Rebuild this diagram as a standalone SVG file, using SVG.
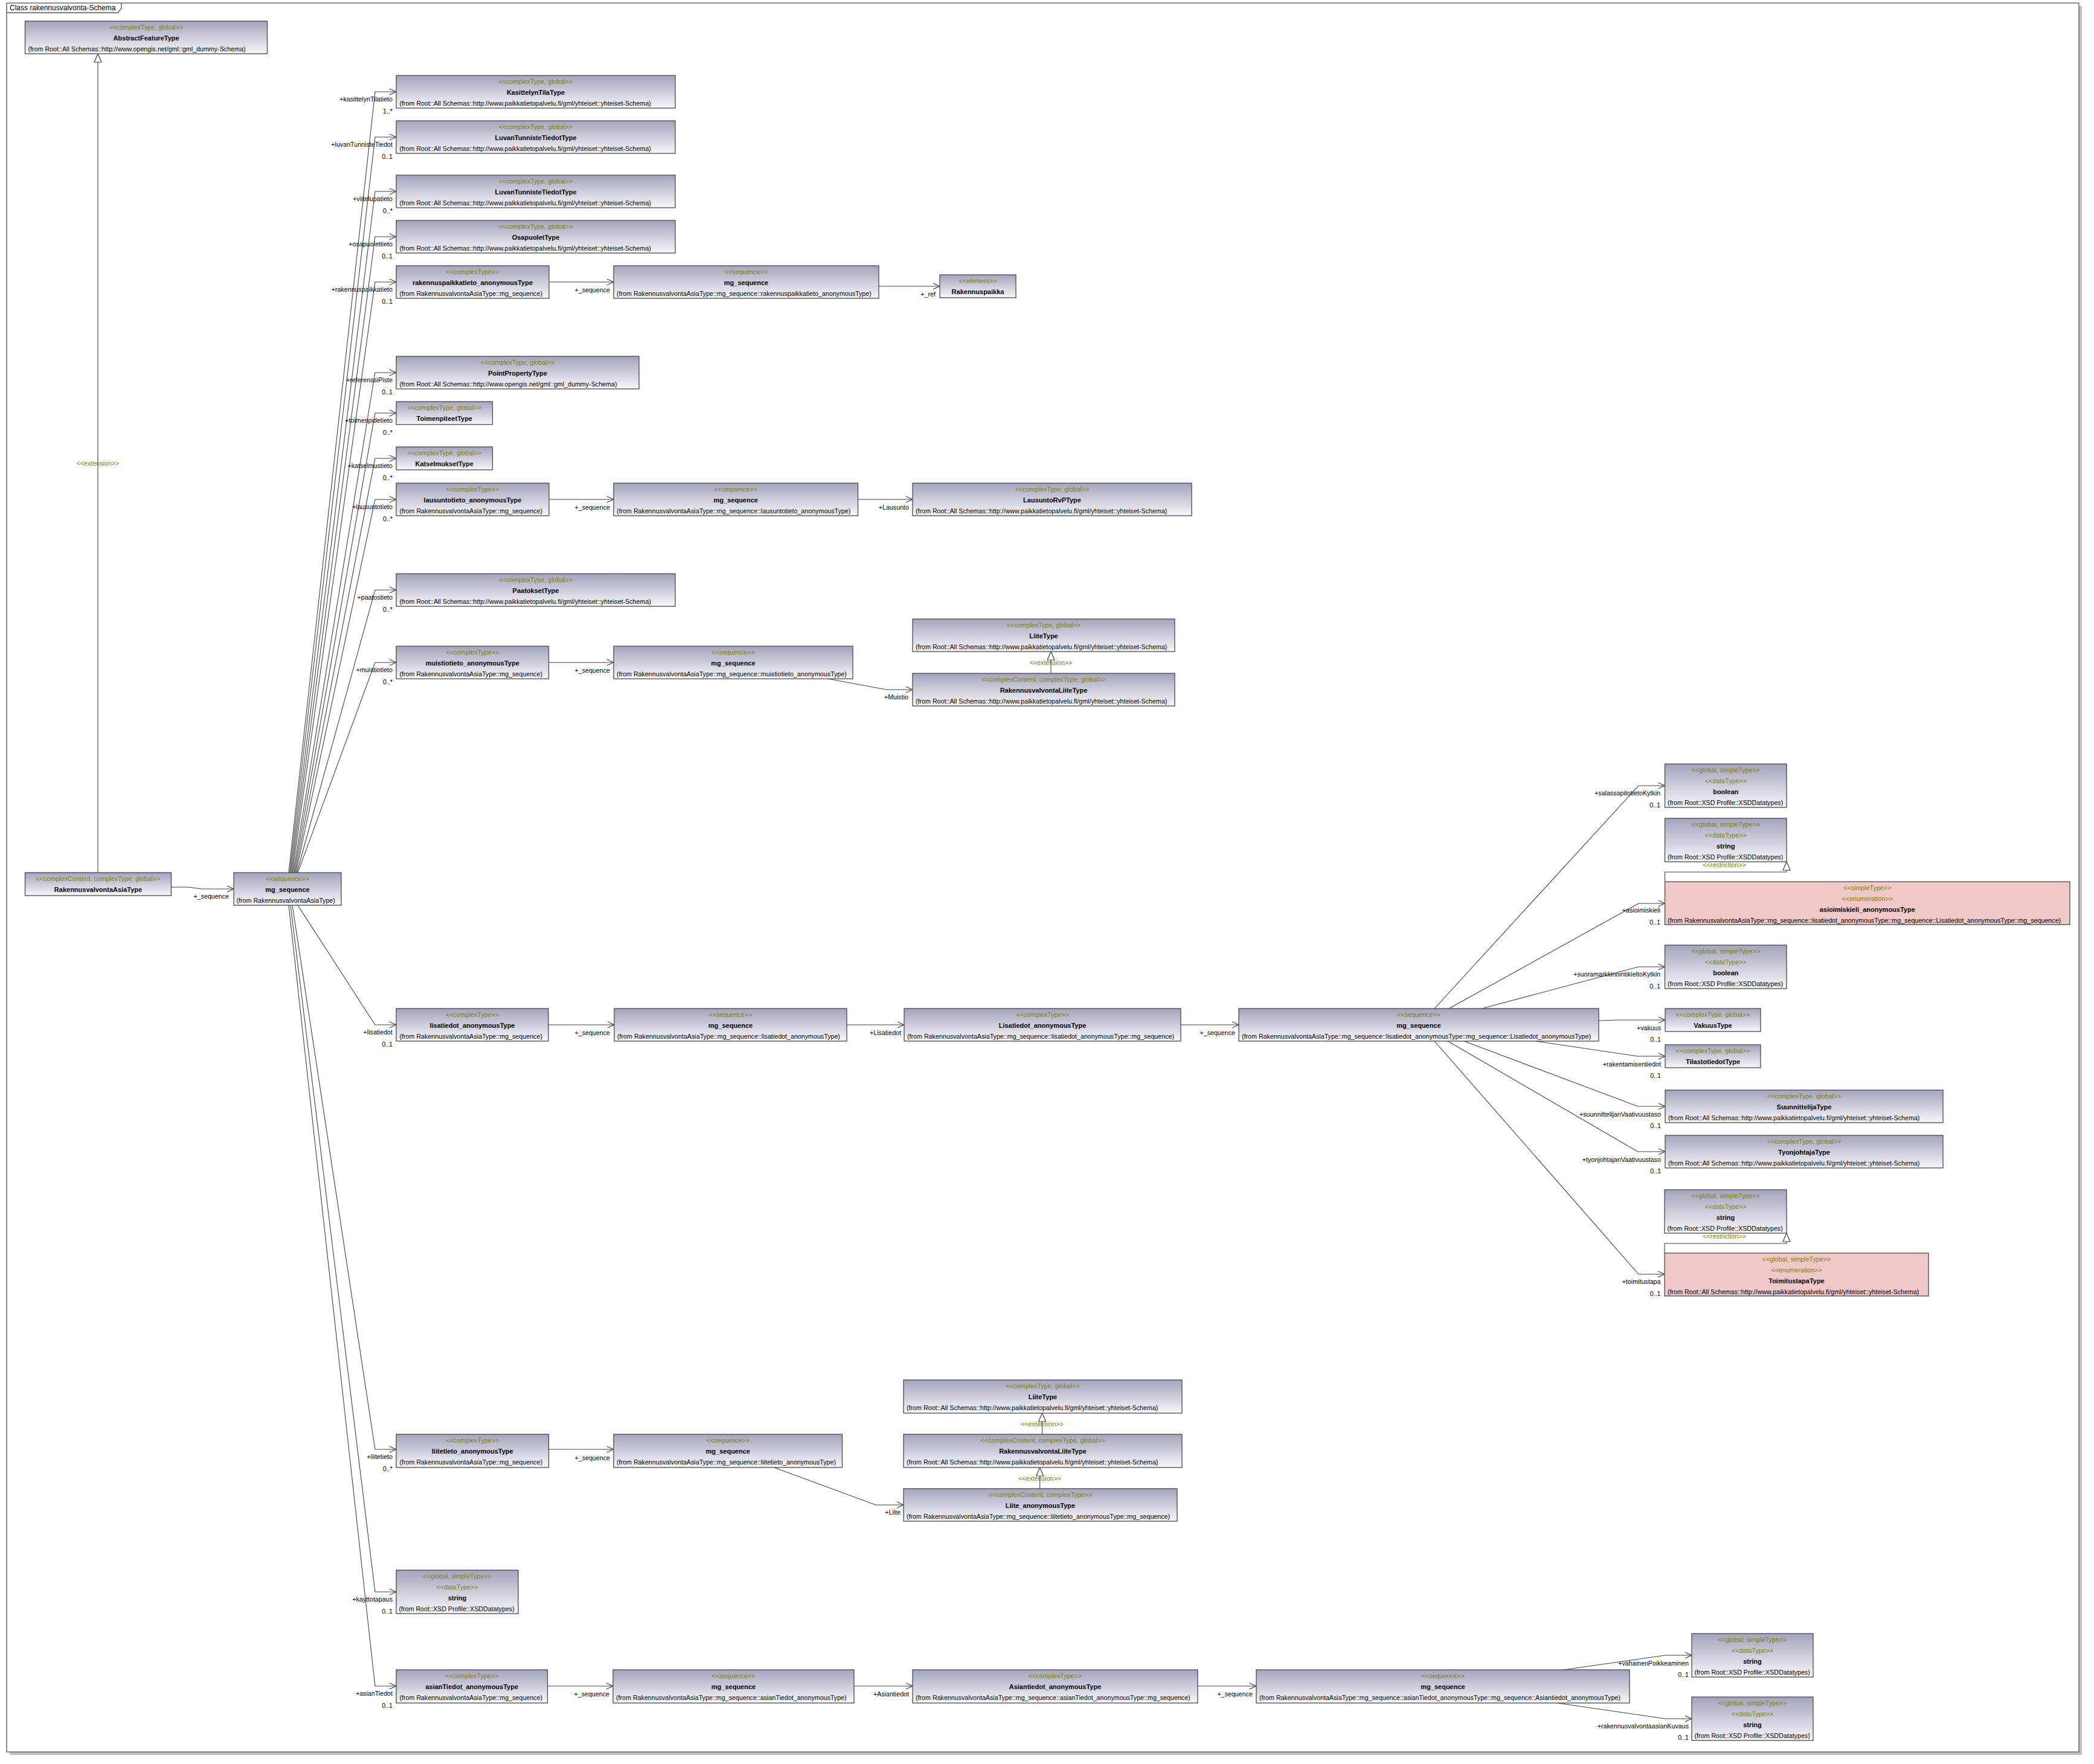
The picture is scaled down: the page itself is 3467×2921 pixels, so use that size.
<svg xmlns="http://www.w3.org/2000/svg" width="3467" height="2921" viewBox="0 0 3467 2921">
<style>
text{font-family:"Liberation Sans",Arial,sans-serif;font-size:10.7px}
.b{fill:url(#g);stroke:#4a4a4a;stroke-width:1.3}
.p{fill:#f0c8c8;stroke:#4a4a4a;stroke-width:1.3}
.s{fill:#808000;text-anchor:middle}
.n{font-weight:bold;font-size:11px;fill:#000;text-anchor:middle}
.f{fill:#000}
.l{fill:#000;text-anchor:end}
.c{fill:none;stroke:#404040;stroke-width:1.1}
.ca{fill:none;stroke:#404040;stroke-width:1.1;marker-end:url(#a)}
.ct{fill:none;stroke:#404040;stroke-width:1.1;marker-end:url(#t)}
.e{fill:#808000;text-anchor:middle}
</style>
<defs>
<linearGradient id="g" x1="0" y1="0" x2="0" y2="1"><stop offset="0" stop-color="#a3a3bd"/><stop offset="1" stop-color="#f7f7fb"/></linearGradient>
<marker id="a" markerWidth="14" markerHeight="14" refX="11" refY="5" orient="auto" markerUnits="userSpaceOnUse" overflow="visible"><path d="M0,0 L11,5 L0,10" fill="none" stroke="#404040" stroke-width="1.2"/></marker>
<marker id="t" markerWidth="16" markerHeight="14" refX="14" refY="6" orient="auto" markerUnits="userSpaceOnUse" overflow="visible"><path d="M0,0 L14,6 L0,12 Z" fill="#fff" stroke="#404040" stroke-width="1.2"/></marker>
</defs>
<rect x="0" y="0" width="3467" height="2921" fill="#fff"/>
<rect x="16" y="10" width="3431" height="2896" fill="#c0c0c0"/>
<rect x="11" y="5" width="3431" height="2896" fill="#fff" stroke="#555" stroke-width="1.3"/>
<path d="M11,21 L195,21 L201,14 L201,5" fill="none" stroke="#555" stroke-width="1.3"/>
<text x="16" y="17" style="font-size:12px">Class rakennusvalvonta-Schema</text>

<g id="connectors">
<path class="ct" d="M162,1445 L162,89"/>
<text class="e" x="162" y="771">&lt;&lt;extension&gt;&gt;</text>
<path class="ca" d="M283.5,1469 L312,1469 L334,1472 L387,1472"/>
<text class="l" x="379" y="1488">+_sequence</text>

<path class="ca" d="M478,1445 L621,152 L656,152"/>
<text class="l" x="650" y="168">+kasittelynTilatieto</text><text class="l" x="650" y="188">1..*</text>
<path class="ca" d="M479.5,1445 L621,227 L656,227"/>
<text class="l" x="650" y="243">+luvanTunnisteTiedot</text><text class="l" x="650" y="263">0..1</text>
<path class="ca" d="M481,1445 L621,317 L656,317"/>
<text class="l" x="650" y="333">+viitelupatieto</text><text class="l" x="650" y="353">0..*</text>
<path class="ca" d="M482.5,1445 L621,392 L656,392"/>
<text class="l" x="650" y="408">+osapuolettieto</text><text class="l" x="650" y="428">0..1</text>
<path class="ca" d="M484,1445 L621,467 L656,467"/>
<text class="l" x="650" y="483">+rakennuspaikkatieto</text><text class="l" x="650" y="503">0..1</text>
<path class="ca" d="M485.5,1445 L621,617 L656,617"/>
<text class="l" x="650" y="633">+referenssiPiste</text><text class="l" x="650" y="653">0..1</text>
<path class="ca" d="M487,1445 L621,684 L656,684"/>
<text class="l" x="650" y="700">+toimenpidetieto</text><text class="l" x="650" y="720">0..*</text>
<path class="ca" d="M488.5,1445 L621,759 L656,759"/>
<text class="l" x="650" y="775">+katselmustieto</text><text class="l" x="650" y="795">0..*</text>
<path class="ca" d="M490,1445 L621,827 L656,827"/>
<text class="l" x="650" y="843">+lausuntotieto</text><text class="l" x="650" y="863">0..*</text>
<path class="ca" d="M491.5,1445 L621,977 L656,977"/>
<text class="l" x="650" y="993">+paatostieto</text><text class="l" x="650" y="1013">0..*</text>
<path class="ca" d="M493,1445 L621,1097 L656,1097"/>
<text class="l" x="650" y="1113">+muistiotieto</text><text class="l" x="650" y="1133">0..*</text>
<path class="ca" d="M493,1499 L621,1697 L656,1697"/>
<text class="l" x="650" y="1713">+lisatiedot</text><text class="l" x="650" y="1733">0..1</text>
<path class="ca" d="M484,1499 L621,2400 L656,2400"/>
<text class="l" x="650" y="2416">+liitetieto</text><text class="l" x="650" y="2436">0..*</text>
<path class="ca" d="M481,1499 L621,2636 L656,2636"/>
<text class="l" x="650" y="2652">+kayttotapaus</text><text class="l" x="650" y="2672">0..1</text>
<path class="ca" d="M478,1499 L621,2792 L656,2792"/>
<text class="l" x="650" y="2808">+asianTiedot</text><text class="l" x="650" y="2828">0..1</text>

<path class="ca" d="M909,467 L1016,467"/>
<text class="l" x="1010" y="484">+_sequence</text>
<path class="ca" d="M1455,474 L1556,474"/>
<text class="l" x="1549" y="491">+_ref</text>

<path class="ca" d="M909,827 L1016,827"/>
<text class="l" x="1010" y="844">+_sequence</text>
<path class="ca" d="M1420.5,827 L1511,827"/>
<text class="l" x="1505" y="844">+Lausunto</text>

<path class="ca" d="M908.5,1097 L1016,1097"/>
<text class="l" x="1010" y="1114">+_sequence</text>
<path class="ca" d="M1370.6,1124 L1468,1142 L1511,1142"/>
<text class="l" x="1504" y="1158">+Muistio</text>
<path class="ct" d="M1740,1115 L1740,1079"/>
<text class="e" x="1740" y="1101">&lt;&lt;extension&gt;&gt;</text>

<path class="ca" d="M908,1697 L1017,1697"/>
<text class="l" x="1010" y="1714">+_sequence</text>
<path class="ca" d="M1402,1697 L1497,1697"/>
<text class="l" x="1492" y="1714">+Lisatiedot</text>
<path class="ca" d="M1955,1697 L2051,1697"/>
<text class="l" x="2045" y="1714">+_sequence</text>

<path class="ca" d="M2375,1670 L2713,1301 L2756.5,1301"/>
<text class="l" x="2749" y="1317">+salassapitotietoKytkin</text><text class="l" x="2749" y="1337">0..1</text>
<path class="ca" d="M2399,1670 L2713,1496 L2756.5,1496"/>
<text class="l" x="2749" y="1511">+asioimiskieli</text><text class="l" x="2749" y="1531">0..1</text>
<path class="ca" d="M2453.6,1670 L2712.5,1601 L2756.5,1601"/>
<text class="l" x="2749" y="1617">+suoramarkkinointikieltoKytkin</text><text class="l" x="2749" y="1637">0..1</text>
<path class="ca" d="M2647,1690 L2681,1689 L2757,1689"/>
<text class="l" x="2750" y="1706">+vakuus</text><text class="l" x="2750" y="1725">0..1</text>
<path class="ca" d="M2542,1724 L2711.6,1749 L2757,1749"/>
<text class="l" x="2750" y="1766">+rakentamisentiedot</text><text class="l" x="2750" y="1785">0..1</text>
<path class="ca" d="M2424,1724 L2711.6,1832 L2757,1832"/>
<text class="l" x="2750" y="1849">+suunnittelijanVaativuustaso</text><text class="l" x="2750" y="1868">0..1</text>
<path class="ca" d="M2397,1724 L2711.6,1907 L2757,1907"/>
<text class="l" x="2750" y="1924">+tyonjohtajanVaativuustaso</text><text class="l" x="2750" y="1943">0..1</text>
<path class="ca" d="M2375,1724 L2713,2110 L2756,2110"/>
<text class="l" x="2749.5" y="2126">+toimitustapa</text><text class="l" x="2749.5" y="2146">0..1</text>
<path class="ct" d="M2756.5,1460 L2756.5,1444 L2958,1444 L2958,1427"/>
<text class="e" x="2855" y="1436">&lt;&lt;restriction&gt;&gt;</text>
<path class="ct" d="M2756,2075 L2756,2059 L2958,2059 L2958,2042"/>
<text class="e" x="2855" y="2051">&lt;&lt;restriction&gt;&gt;</text>

<path class="ca" d="M908.5,2400 L1016,2400"/>
<text class="l" x="1010" y="2418">+_sequence</text>
<path class="ca" d="M1281.6,2430 L1450,2492 L1496,2492"/>
<text class="l" x="1491" y="2508">+Liite</text>
<path class="ct" d="M1725.5,2375 L1725.5,2340"/>
<text class="e" x="1725.5" y="2362">&lt;&lt;extension&gt;&gt;</text>
<path class="ct" d="M1721.7,2465 L1721.7,2430"/>
<text class="e" x="1721.7" y="2452">&lt;&lt;extension&gt;&gt;</text>

<path class="ca" d="M906.5,2792 L1015,2792"/>
<text class="l" x="1009" y="2809">+_sequence</text>
<path class="ca" d="M1414,2792 L1511,2792"/>
<text class="l" x="1505" y="2809">+Asiantiedot</text>
<path class="ca" d="M1983,2792 L2080,2792"/>
<text class="l" x="2074" y="2809">+_sequence</text>
<path class="ca" d="M2589,2765 L2757,2741 L2801,2741"/>
<text class="l" x="2796" y="2758">+vahainenPoikkeaminen</text><text class="l" x="2796" y="2777">0..1</text>
<path class="ca" d="M2578,2820 L2757,2846 L2801,2846"/>
<text class="l" x="2796" y="2862">+rakennusvalvontaasianKuvaus</text><text class="l" x="2796" y="2881">0..1</text>
</g>

<g id="n_AbstractFeatureType"><rect class="b" x="41.5" y="35" width="401" height="54"/><text class="s" x="242" y="48.5">&lt;&lt;complexType, global&gt;&gt;</text><text class="n" x="242" y="66.5">AbstractFeatureType</text><text class="f" x="46.5" y="84.5">(from Root::All Schemas::http://www.opengis.net/gml::gml_dummy-Schema)</text></g>
<g id="n_RakennusvalvontaAsiaType"><rect class="b" x="41.5" y="1445" width="242" height="38"/><text class="s" x="162.5" y="1458.5">&lt;&lt;complexContent, complexType, global&gt;&gt;</text><text class="n" x="162.5" y="1476.5">RakennusvalvontaAsiaType</text></g>
<g id="n_mg_main"><rect class="b" x="387" y="1445" width="178" height="54"/><text class="s" x="476" y="1458.5">&lt;&lt;sequence&gt;&gt;</text><text class="n" x="476" y="1476.5">mg_sequence</text><text class="f" x="391.5" y="1494.5">(from RakennusvalvontaAsiaType)</text></g>

<g id="n_KasittelynTilaType"><rect class="b" x="656" y="125" width="462" height="54"/><text class="s" x="887" y="138.5">&lt;&lt;complexType, global&gt;&gt;</text><text class="n" x="887" y="156.5">KasittelynTilaType</text><text class="f" x="661.5" y="174.5">(from Root::All Schemas::http://www.paikkatietopalvelu.fi/gml/yhteiset::yhteiset-Schema)</text></g>
<g id="n_LuvanTunnisteTiedotType1"><rect class="b" x="656" y="200" width="462" height="54"/><text class="s" x="887" y="213.5">&lt;&lt;complexType, global&gt;&gt;</text><text class="n" x="887" y="231.5">LuvanTunnisteTiedotType</text><text class="f" x="661.5" y="249.5">(from Root::All Schemas::http://www.paikkatietopalvelu.fi/gml/yhteiset::yhteiset-Schema)</text></g>
<g id="n_LuvanTunnisteTiedotType2"><rect class="b" x="656" y="290" width="462" height="54"/><text class="s" x="887" y="303.5">&lt;&lt;complexType, global&gt;&gt;</text><text class="n" x="887" y="321.5">LuvanTunnisteTiedotType</text><text class="f" x="661.5" y="339.5">(from Root::All Schemas::http://www.paikkatietopalvelu.fi/gml/yhteiset::yhteiset-Schema)</text></g>
<g id="n_OsapuoletType"><rect class="b" x="656" y="365" width="462" height="54"/><text class="s" x="887" y="378.5">&lt;&lt;complexType, global&gt;&gt;</text><text class="n" x="887" y="396.5">OsapuoletType</text><text class="f" x="661.5" y="414.5">(from Root::All Schemas::http://www.paikkatietopalvelu.fi/gml/yhteiset::yhteiset-Schema)</text></g>
<g id="n_rakennuspaikkatieto_anonymousType"><rect class="b" x="656" y="440" width="253" height="54"/><text class="s" x="782.5" y="453.5">&lt;&lt;complexType&gt;&gt;</text><text class="n" x="782.5" y="471.5">rakennuspaikkatieto_anonymousType</text><text class="f" x="661.5" y="489.5">(from RakennusvalvontaAsiaType::mg_sequence)</text></g>
<g id="n_mg_rakennuspaikka"><rect class="b" x="1016" y="440" width="439" height="54"/><text class="s" x="1235.5" y="453.5">&lt;&lt;sequence&gt;&gt;</text><text class="n" x="1235.5" y="471.5">mg_sequence</text><text class="f" x="1021" y="489.5">(from RakennusvalvontaAsiaType::mg_sequence::rakennuspaikkatieto_anonymousType)</text></g>
<g id="n_Rakennuspaikka"><rect class="b" x="1556" y="455" width="126" height="38"/><text class="s" x="1619" y="468.5">&lt;&lt;element&gt;&gt;</text><text class="n" x="1619" y="486.5">Rakennuspaikka</text></g>
<g id="n_PointPropertyType"><rect class="b" x="656" y="590" width="402" height="54"/><text class="s" x="857" y="603.5">&lt;&lt;complexType, global&gt;&gt;</text><text class="n" x="857" y="621.5">PointPropertyType</text><text class="f" x="661.5" y="639.5">(from Root::All Schemas::http://www.opengis.net/gml::gml_dummy-Schema)</text></g>
<g id="n_ToimenpiteetType"><rect class="b" x="656" y="665" width="159.5" height="38"/><text class="s" x="735.75" y="678.5">&lt;&lt;complexType, global&gt;&gt;</text><text class="n" x="735.75" y="696.5">ToimenpiteetType</text></g>
<g id="n_KatselmuksetType"><rect class="b" x="656" y="740" width="159.5" height="38"/><text class="s" x="735.75" y="753.5">&lt;&lt;complexType, global&gt;&gt;</text><text class="n" x="735.75" y="771.5">KatselmuksetType</text></g>
<g id="n_lausuntotieto_anonymousType"><rect class="b" x="656" y="800" width="253" height="54"/><text class="s" x="782.5" y="813.5">&lt;&lt;complexType&gt;&gt;</text><text class="n" x="782.5" y="831.5">lausuntotieto_anonymousType</text><text class="f" x="661.5" y="849.5">(from RakennusvalvontaAsiaType::mg_sequence)</text></g>
<g id="n_mg_lausunto"><rect class="b" x="1016" y="800" width="404.5" height="54"/><text class="s" x="1218.25" y="813.5">&lt;&lt;sequence&gt;&gt;</text><text class="n" x="1218.25" y="831.5">mg_sequence</text><text class="f" x="1021" y="849.5">(from RakennusvalvontaAsiaType::mg_sequence::lausuntotieto_anonymousType)</text></g>
<g id="n_LausuntoRvPType"><rect class="b" x="1511" y="800" width="462" height="54"/><text class="s" x="1742" y="813.5">&lt;&lt;complexType, global&gt;&gt;</text><text class="n" x="1742" y="831.5">LausuntoRvPType</text><text class="f" x="1516" y="849.5">(from Root::All Schemas::http://www.paikkatietopalvelu.fi/gml/yhteiset::yhteiset-Schema)</text></g>
<g id="n_PaatoksetType"><rect class="b" x="656" y="950" width="462" height="54"/><text class="s" x="887" y="963.5">&lt;&lt;complexType, global&gt;&gt;</text><text class="n" x="887" y="981.5">PaatoksetType</text><text class="f" x="661.5" y="999.5">(from Root::All Schemas::http://www.paikkatietopalvelu.fi/gml/yhteiset::yhteiset-Schema)</text></g>
<g id="n_muistiotieto_anonymousType"><rect class="b" x="656" y="1070" width="252.5" height="54"/><text class="s" x="782.25" y="1083.5">&lt;&lt;complexType&gt;&gt;</text><text class="n" x="782.25" y="1101.5">muistiotieto_anonymousType</text><text class="f" x="661.5" y="1119.5">(from RakennusvalvontaAsiaType::mg_sequence)</text></g>
<g id="n_mg_muistio"><rect class="b" x="1016" y="1070" width="396" height="54"/><text class="s" x="1214" y="1083.5">&lt;&lt;sequence&gt;&gt;</text><text class="n" x="1214" y="1101.5">mg_sequence</text><text class="f" x="1021" y="1119.5">(from RakennusvalvontaAsiaType::mg_sequence::muistiotieto_anonymousType)</text></g>
<g id="n_LiiteType_a"><rect class="b" x="1511" y="1025" width="434" height="54"/><text class="s" x="1728" y="1038.5">&lt;&lt;complexType, global&gt;&gt;</text><text class="n" x="1728" y="1056.5">LiiteType</text><text class="f" x="1516" y="1074.5">(from Root::All Schemas::http://www.paikkatietopalvelu.fi/gml/yhteiset::yhteiset-Schema)</text></g>
<g id="n_RakennusvalvontaLiiteType_a"><rect class="b" x="1511" y="1115" width="434" height="54"/><text class="s" x="1728" y="1128.5">&lt;&lt;complexContent, complexType, global&gt;&gt;</text><text class="n" x="1728" y="1146.5">RakennusvalvontaLiiteType</text><text class="f" x="1516" y="1164.5">(from Root::All Schemas::http://www.paikkatietopalvelu.fi/gml/yhteiset::yhteiset-Schema)</text></g>

<g id="n_lisatiedot_anonymousType"><rect class="b" x="656" y="1670" width="252" height="54"/><text class="s" x="782" y="1683.5">&lt;&lt;complexType&gt;&gt;</text><text class="n" x="782" y="1701.5">lisatiedot_anonymousType</text><text class="f" x="661.5" y="1719.5">(from RakennusvalvontaAsiaType::mg_sequence)</text></g>
<g id="n_mg_lisatiedot"><rect class="b" x="1017" y="1670" width="385" height="54"/><text class="s" x="1209.5" y="1683.5">&lt;&lt;sequence&gt;&gt;</text><text class="n" x="1209.5" y="1701.5">mg_sequence</text><text class="f" x="1022" y="1719.5">(from RakennusvalvontaAsiaType::mg_sequence::lisatiedot_anonymousType)</text></g>
<g id="n_Lisatiedot_anonymousType"><rect class="b" x="1497" y="1670" width="458" height="54"/><text class="s" x="1726" y="1683.5">&lt;&lt;complexType&gt;&gt;</text><text class="n" x="1726" y="1701.5">Lisatiedot_anonymousType</text><text class="f" x="1502" y="1719.5">(from RakennusvalvontaAsiaType::mg_sequence::lisatiedot_anonymousType::mg_sequence)</text></g>
<g id="n_mg_Lisatiedot"><rect class="b" x="2051" y="1670" width="596" height="54"/><text class="s" x="2349" y="1683.5">&lt;&lt;sequence&gt;&gt;</text><text class="n" x="2349" y="1701.5">mg_sequence</text><text class="f" x="2056" y="1719.5">(from RakennusvalvontaAsiaType::mg_sequence::lisatiedot_anonymousType::mg_sequence::Lisatiedot_anonymousType)</text></g>
<g id="n_boolean1"><rect class="b" x="2756.5" y="1265" width="201.5" height="72"/><text class="s" x="2857.25" y="1278.5">&lt;&lt;global, simpleType&gt;&gt;</text><text class="s" x="2857.25" y="1296.5">&lt;&lt;dataType&gt;&gt;</text><text class="n" x="2857.25" y="1314.5">boolean</text><text class="f" x="2761" y="1332.5">(from Root::XSD Profile::XSDDatatypes)</text></g>
<g id="n_string1"><rect class="b" x="2756.5" y="1355" width="201.5" height="72"/><text class="s" x="2857.25" y="1368.5">&lt;&lt;global, simpleType&gt;&gt;</text><text class="s" x="2857.25" y="1386.5">&lt;&lt;dataType&gt;&gt;</text><text class="n" x="2857.25" y="1404.5">string</text><text class="f" x="2761" y="1422.5">(from Root::XSD Profile::XSDDatatypes)</text></g>
<g id="n_asioimiskieli_anonymousType"><rect class="p" x="2756.5" y="1460" width="670.5" height="71"/><text class="s" x="3091.75" y="1473.5">&lt;&lt;simpleType&gt;&gt;</text><text class="s" x="3091.75" y="1491.5">&lt;&lt;enumeration&gt;&gt;</text><text class="n" x="3091.75" y="1509.5">asioimiskieli_anonymousType</text><text class="f" x="2761" y="1527.5">(from RakennusvalvontaAsiaType::mg_sequence::lisatiedot_anonymousType::mg_sequence::Lisatiedot_anonymousType::mg_sequence)</text></g>
<g id="n_boolean2"><rect class="b" x="2756.5" y="1565" width="201.5" height="72"/><text class="s" x="2857.25" y="1578.5">&lt;&lt;global, simpleType&gt;&gt;</text><text class="s" x="2857.25" y="1596.5">&lt;&lt;dataType&gt;&gt;</text><text class="n" x="2857.25" y="1614.5">boolean</text><text class="f" x="2761" y="1632.5">(from Root::XSD Profile::XSDDatatypes)</text></g>
<g id="n_VakuusType"><rect class="b" x="2757" y="1670" width="158" height="38"/><text class="s" x="2836" y="1683.5">&lt;&lt;complexType, global&gt;&gt;</text><text class="n" x="2836" y="1701.5">VakuusType</text></g>
<g id="n_TilastotiedotType"><rect class="b" x="2757" y="1730" width="158" height="38"/><text class="s" x="2836" y="1743.5">&lt;&lt;complexType, global&gt;&gt;</text><text class="n" x="2836" y="1761.5">TilastotiedotType</text></g>
<g id="n_SuunnittelijaType"><rect class="b" x="2757" y="1805" width="460" height="54"/><text class="s" x="2987" y="1818.5">&lt;&lt;complexType, global&gt;&gt;</text><text class="n" x="2987" y="1836.5">SuunnittelijaType</text><text class="f" x="2762" y="1854.5">(from Root::All Schemas::http://www.paikkatietopalvelu.fi/gml/yhteiset::yhteiset-Schema)</text></g>
<g id="n_TyonjohtajaType"><rect class="b" x="2757" y="1880" width="460" height="54"/><text class="s" x="2987" y="1893.5">&lt;&lt;complexType, global&gt;&gt;</text><text class="n" x="2987" y="1911.5">TyonjohtajaType</text><text class="f" x="2762" y="1929.5">(from Root::All Schemas::http://www.paikkatietopalvelu.fi/gml/yhteiset::yhteiset-Schema)</text></g>
<g id="n_string2"><rect class="b" x="2756" y="1970" width="202" height="72"/><text class="s" x="2857" y="1983.5">&lt;&lt;global, simpleType&gt;&gt;</text><text class="s" x="2857" y="2001.5">&lt;&lt;dataType&gt;&gt;</text><text class="n" x="2857" y="2019.5">string</text><text class="f" x="2760.5" y="2037.5">(from Root::XSD Profile::XSDDatatypes)</text></g>
<g id="n_ToimitustapaType"><rect class="p" x="2756" y="2075" width="437" height="71"/><text class="s" x="2974.5" y="2088.5">&lt;&lt;global, simpleType&gt;&gt;</text><text class="s" x="2974.5" y="2106.5">&lt;&lt;enumeration&gt;&gt;</text><text class="n" x="2974.5" y="2124.5">ToimitustapaType</text><text class="f" x="2761" y="2142.5">(from Root::All Schemas::http://www.paikkatietopalvelu.fi/gml/yhteiset::yhteiset-Schema)</text></g>

<g id="n_liitetieto_anonymousType"><rect class="b" x="656" y="2375" width="252.5" height="55"/><text class="s" x="782.25" y="2388.5">&lt;&lt;complexType&gt;&gt;</text><text class="n" x="782.25" y="2406.5">liitetieto_anonymousType</text><text class="f" x="661.5" y="2424.5">(from RakennusvalvontaAsiaType::mg_sequence)</text></g>
<g id="n_mg_liitetieto"><rect class="b" x="1016" y="2375" width="378.5" height="55"/><text class="s" x="1205.25" y="2388.5">&lt;&lt;sequence&gt;&gt;</text><text class="n" x="1205.25" y="2406.5">mg_sequence</text><text class="f" x="1021" y="2424.5">(from RakennusvalvontaAsiaType::mg_sequence::liitetieto_anonymousType)</text></g>
<g id="n_LiiteType_b"><rect class="b" x="1496" y="2285" width="461" height="55"/><text class="s" x="1726.5" y="2298.5">&lt;&lt;complexType, global&gt;&gt;</text><text class="n" x="1726.5" y="2316.5">LiiteType</text><text class="f" x="1501" y="2334.5">(from Root::All Schemas::http://www.paikkatietopalvelu.fi/gml/yhteiset::yhteiset-Schema)</text></g>
<g id="n_RakennusvalvontaLiiteType_b"><rect class="b" x="1496" y="2375" width="461" height="55"/><text class="s" x="1726.5" y="2388.5">&lt;&lt;complexContent, complexType, global&gt;&gt;</text><text class="n" x="1726.5" y="2406.5">RakennusvalvontaLiiteType</text><text class="f" x="1501" y="2424.5">(from Root::All Schemas::http://www.paikkatietopalvelu.fi/gml/yhteiset::yhteiset-Schema)</text></g>
<g id="n_Liite_anonymousType"><rect class="b" x="1496" y="2465" width="453" height="54"/><text class="s" x="1722.5" y="2478.5">&lt;&lt;complexContent, complexType&gt;&gt;</text><text class="n" x="1722.5" y="2496.5">Liite_anonymousType</text><text class="f" x="1501" y="2514.5">(from RakennusvalvontaAsiaType::mg_sequence::liitetieto_anonymousType::mg_sequence)</text></g>
<g id="n_string_kayttotapaus"><rect class="b" x="656" y="2600" width="202" height="72"/><text class="s" x="757" y="2613.5">&lt;&lt;global, simpleType&gt;&gt;</text><text class="s" x="757" y="2631.5">&lt;&lt;dataType&gt;&gt;</text><text class="n" x="757" y="2649.5">string</text><text class="f" x="660.5" y="2667.5">(from Root::XSD Profile::XSDDatatypes)</text></g>
<g id="n_asianTiedot_anonymousType"><rect class="b" x="656" y="2765" width="250.5" height="55"/><text class="s" x="781.25" y="2778.5">&lt;&lt;complexType&gt;&gt;</text><text class="n" x="781.25" y="2796.5">asianTiedot_anonymousType</text><text class="f" x="661.5" y="2814.5">(from RakennusvalvontaAsiaType::mg_sequence)</text></g>
<g id="n_mg_asianTiedot"><rect class="b" x="1015" y="2765" width="399" height="55"/><text class="s" x="1214.5" y="2778.5">&lt;&lt;sequence&gt;&gt;</text><text class="n" x="1214.5" y="2796.5">mg_sequence</text><text class="f" x="1020" y="2814.5">(from RakennusvalvontaAsiaType::mg_sequence::asianTiedot_anonymousType)</text></g>
<g id="n_Asiantiedot_anonymousType"><rect class="b" x="1511" y="2765" width="472" height="55"/><text class="s" x="1747" y="2778.5">&lt;&lt;complexType&gt;&gt;</text><text class="n" x="1747" y="2796.5">Asiantiedot_anonymousType</text><text class="f" x="1516" y="2814.5">(from RakennusvalvontaAsiaType::mg_sequence::asianTiedot_anonymousType::mg_sequence)</text></g>
<g id="n_mg_Asiantiedot"><rect class="b" x="2080" y="2765" width="618" height="55"/><text class="s" x="2389" y="2778.5">&lt;&lt;sequence&gt;&gt;</text><text class="n" x="2389" y="2796.5">mg_sequence</text><text class="f" x="2085" y="2814.5">(from RakennusvalvontaAsiaType::mg_sequence::asianTiedot_anonymousType::mg_sequence::Asiantiedot_anonymousType)</text></g>
<g id="n_string_vahainen"><rect class="b" x="2801" y="2705" width="201" height="72"/><text class="s" x="2901.5" y="2718.5">&lt;&lt;global, simpleType&gt;&gt;</text><text class="s" x="2901.5" y="2736.5">&lt;&lt;dataType&gt;&gt;</text><text class="n" x="2901.5" y="2754.5">string</text><text class="f" x="2805.5" y="2772.5">(from Root::XSD Profile::XSDDatatypes)</text></g>
<g id="n_string_kuvaus"><rect class="b" x="2801" y="2810" width="201" height="72"/><text class="s" x="2901.5" y="2823.5">&lt;&lt;global, simpleType&gt;&gt;</text><text class="s" x="2901.5" y="2841.5">&lt;&lt;dataType&gt;&gt;</text><text class="n" x="2901.5" y="2859.5">string</text><text class="f" x="2805.5" y="2877.5">(from Root::XSD Profile::XSDDatatypes)</text></g>
</svg>
